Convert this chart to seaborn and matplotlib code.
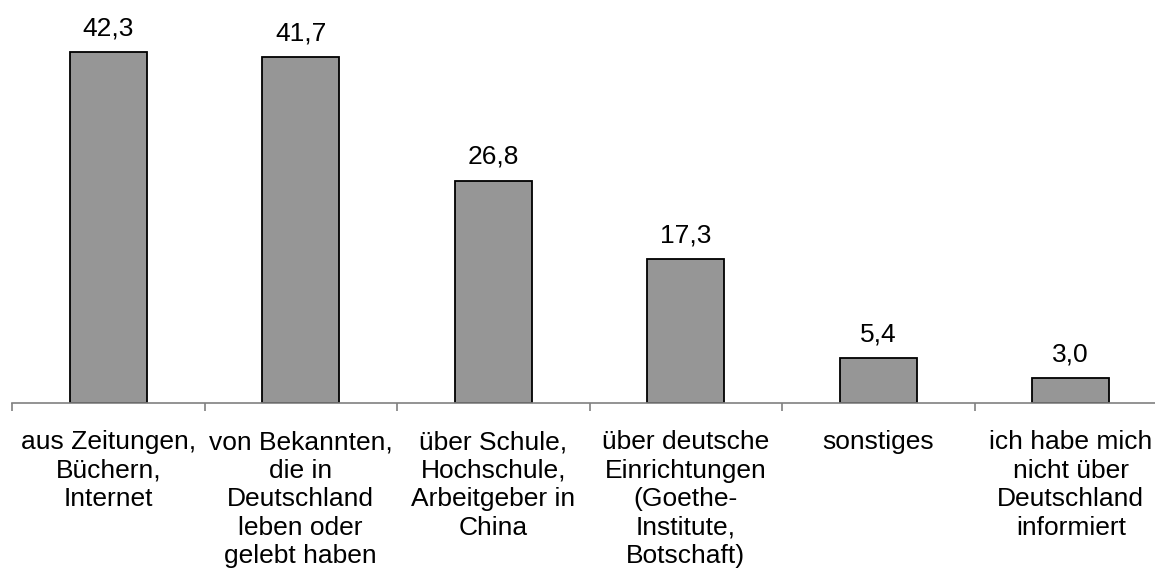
import matplotlib
matplotlib.use("Agg")
import matplotlib.pyplot as plt
import seaborn as sns
import pandas as pd

categories = [
    "aus Zeitungen,\nBüchern,\nInternet",
    "von Bekannten,\ndie in\nDeutschland\nleben oder\ngelebt haben",
    "über Schule,\nHochschule,\nArbeitgeber in\nChina",
    "über deutsche\nEinrichtungen\n(Goethe-\nInstitute,\nBotschaft)",
    "sonstiges",
    "ich habe mich\nnicht über\nDeutschland\ninformiert",
]
values = [42.3, 41.7, 26.8, 17.3, 5.4, 3.0]
value_labels = ["42,3", "41,7", "26,8", "17,3", "5,4", "3,0"]

sns.set_theme(style="white")
plt.rcParams["font.family"] = ["Liberation Sans", "DejaVu Sans"]

W, H = 1155, 579
fig = plt.figure(figsize=(W / 100, H / 100), dpi=100)
ax_left = 12 / W
ax_bottom = (H - 403) / H
ax_width = 1155 / W
ax_height = (45 * 8.3) / H
ax = fig.add_axes([ax_left, ax_bottom, ax_width, ax_height])

df = pd.DataFrame({"cat": categories, "val": values})
sns.barplot(data=df, x="cat", y="val", color="#969696", width=0.4,
            edgecolor="black", linewidth=1.3, saturation=1, ax=ax)

ax.set_xlim(-0.5, 5.5)
ax.set_ylim(0, 45)
for c in ax.containers:
    ax.bar_label(c, labels=value_labels, padding=8.5, fontsize=19, color="black")

for s in ["top", "right", "left"]:
    ax.spines[s].set_visible(False)
ax.spines["bottom"].set_color("#808080")
ax.spines["bottom"].set_linewidth(1.2)
ax.set_yticks([])
ax.set_xlabel("")
ax.set_ylabel("")
ax.set_xticks([i - 0.5 for i in range(7)])
ax.set_xticklabels([])
ax.tick_params(axis="x", which="major", direction="out", length=6, width=1.2, color="#808080", bottom=True)
ax.set_xticks(range(6), minor=True)
ax.set_xticklabels(categories, minor=True, fontsize=19, linespacing=1.24)
ax.tick_params(axis="x", which="minor", length=0, pad=19.5, labelcolor="black")

fig.savefig("out.png", dpi=100)
